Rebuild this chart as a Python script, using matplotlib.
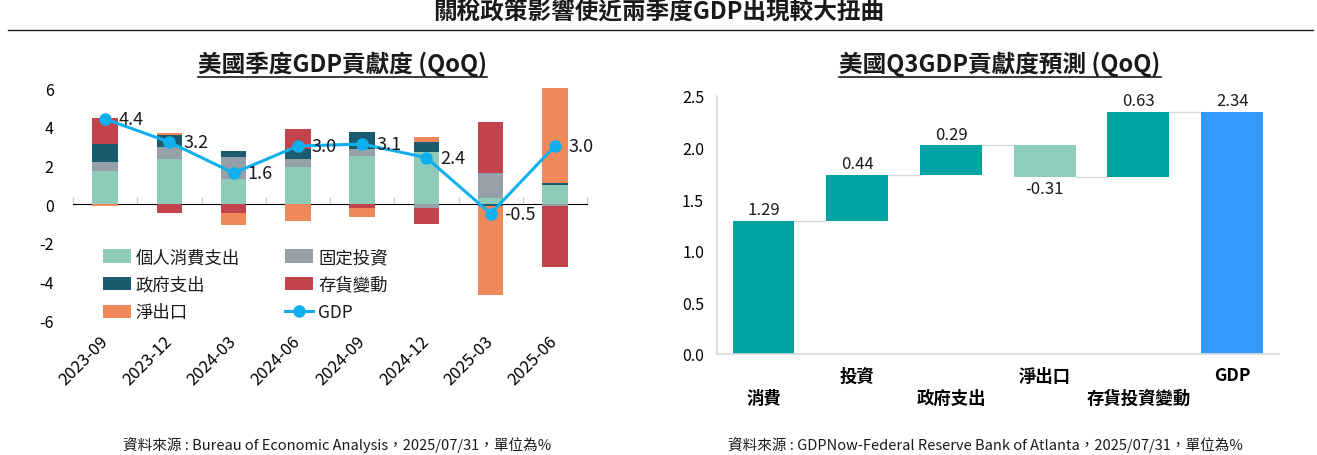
import numpy as np
import matplotlib
matplotlib.use('Agg')
import matplotlib.pyplot as plt
from matplotlib.lines import Line2D

plt.rcParams['font.family'] = ['Noto Sans CJK TC', 'DejaVu Sans']
plt.rcParams['axes.unicode_minus'] = False
plt.rcParams['text.color'] = '#1a1a1a'

# ---- 左圖資料: 美國季度GDP貢獻度 ----
quarters = ['2023-09', '2023-12', '2024-03', '2024-06', '2024-09', '2024-12', '2025-03', '2025-06']
consumption = [1.69, 2.31, 1.28, 1.90, 2.47, 2.68, 0.29, 0.97]
fixed_inv = [0.47, 0.62, 1.14, 0.41, 0.38, -0.22, 1.30, -0.08]
government = [0.93, 0.62, 0.31, 0.52, 0.88, 0.52, -0.10, 0.10]
inventory = [1.35, -0.48, -0.48, 1.04, -0.22, -0.83, 2.66, -3.18]
net_exports = [-0.10, 0.10, -0.60, -0.90, -0.47, 0.26, -4.60, 4.94]
gdp = [4.4, 3.2, 1.6, 3.0, 3.1, 2.4, -0.5, 3.0]
series_names = ['個人消費支出', '固定投資', '政府支出', '存貨變動', '淨出口']
series_colors = ['#8ECCB9', '#95A0A8', '#1B5B70', '#C1434B', '#F0895A']

# ---- 右圖資料: 美國Q3GDP貢獻度預測 ----
wf_labels = ['消費', '投資', '政府支出', '淨出口', '存貨投資變動', 'GDP']
wf_values = [1.29, 0.44, 0.29, -0.31, 0.63]
wf_total = 2.34

W, H = 1317, 456
fig = plt.figure(figsize=(W / 100, H / 100), dpi=100)


def px_axes(x0, x1, ytop, ybot):
    return fig.add_axes([x0 / W, (H - ybot) / H, (x1 - x0) / W, (ybot - ytop) / H])


# 主標題與分隔線
fig.text(0.5, 1 - 12 / H, '關稅政策影響使近兩季度GDP出現較大扭曲', ha='center', va='center',
         fontsize=17, fontweight='bold')
fig.add_artist(Line2D([8 / W, 1313 / W], [1 - 31 / H, 1 - 31 / H], color='#222222', lw=1))

# ================= 左圖 =================
ax1 = px_axes(73, 587, 89, 321)
x = np.arange(len(quarters))
data = [consumption, fixed_inv, government, inventory, net_exports]
pos_base = np.zeros(len(quarters))
neg_base = np.zeros(len(quarters))
handles = []
for vals, name, col in zip(data, series_names, series_colors):
    v = np.array(vals)
    bottom = np.where(v >= 0, pos_base, neg_base)
    b = ax1.bar(x, v, width=0.4, bottom=bottom, color=col, label=name, zorder=2)
    handles.append(b)
    pos_base = pos_base + np.where(v >= 0, v, 0)
    neg_base = neg_base + np.where(v < 0, v, 0)

line, = ax1.plot(x, gdp, color='#10B0EE', lw=2.2, marker='o', markersize=8, label='GDP', zorder=4)
for xi, g in zip(x, gdp):
    ax1.annotate(f'{g:.1f}', (xi, g), xytext=(10, 0), textcoords='offset points',
                 ha='left', va='center', fontsize=13, zorder=5)

ax1.set_xlim(-0.5, len(quarters) - 0.5)
ax1.set_ylim(-6, 6)
ax1.set_yticks(np.arange(-6, 7, 2))
ax1.set_yticklabels([str(v) for v in range(-6, 7, 2)])
ax1.tick_params(axis='y', length=0, pad=14, labelsize=11.5)
ax1.set_xticks(x)
ax1.set_xticklabels(quarters, rotation=45, ha='right', va='center', rotation_mode='anchor', fontsize=12)
ax1.tick_params(axis='x', length=0, pad=13)
for s in ax1.spines.values():
    s.set_visible(False)

# 零軸與分類刻度
zero_ax = ax1.secondary_xaxis(0.5)
zero_ax.set_xticks(np.arange(-0.5, len(quarters), 1))
zero_ax.set_xticklabels([])
zero_ax.tick_params(length=5, color='#D0D0D0', width=1)
zero_ax.spines['bottom'].set_color('#D0D0D0')
zero_ax.spines['bottom'].set_linewidth(1.2)

order = [0, 2, 4, 1, 3]
leg_handles = [handles[i] for i in order] + [line]
leg_labels = [series_names[i] for i in order] + ['GDP']
ax1.legend(leg_handles, leg_labels, ncol=2, loc='upper left', bbox_to_anchor=(0.058, 0.31),
           frameon=False, fontsize=12.5, handlelength=1.6, handleheight=0.8, handletextpad=0.3,
           columnspacing=2.6, labelspacing=0.55, borderpad=0, borderaxespad=0)

# ================= 右圖 =================
ax2 = px_axes(716.7, 1279, 96.7, 355)
n = len(wf_values)
cum = np.concatenate([[0], np.cumsum(wf_values)])
wx = np.arange(len(wf_labels))
bar_w = 0.66
step_colors = ['#00A3A3' if v >= 0 else '#8ECCBC' for v in wf_values]
ax2.bar(wx[:n], wf_values, bottom=cum[:n], width=bar_w, color=step_colors, zorder=2)
ax2.bar(wx[n], wf_total, width=bar_w, color='#3399FF', zorder=2)

tops = list(cum[1:]) + [wf_total]
for i in range(len(wf_labels) - 1):
    ax2.plot([wx[i] + bar_w / 2, wx[i + 1] - bar_w / 2], [tops[i], tops[i]],
             color='#D9D9D9', lw=1, zorder=1)

for i, v in enumerate(wf_values + [wf_total]):
    if v >= 0:
        ax2.annotate(f'{v:.2f}', (wx[i], tops[i]), xytext=(0, 2), textcoords='offset points',
                     ha='center', va='bottom', fontsize=12)
    else:
        ax2.annotate(f'{v:.2f}', (wx[i], tops[i]), xytext=(0, -2), textcoords='offset points',
                     ha='center', va='top', fontsize=12)

ax2.set_xlim(-0.5, len(wf_labels) - 0.5)
ax2.set_ylim(0, 2.5)
ax2.set_yticks(np.arange(0, 2.51, 0.5))
ax2.set_yticklabels([f'{v:.1f}' for v in np.arange(0, 2.51, 0.5)])
ax2.tick_params(axis='y', length=0, pad=9, labelsize=11.5)
ax2.set_xticks(wx)
ax2.set_xticklabels(wf_labels, fontsize=12.5, fontweight='bold')
ax2.tick_params(axis='x', length=0)
for i, t in enumerate(ax2.xaxis.get_major_ticks()):
    t.set_pad(25 if i % 2 == 0 else 9)
for side in ['top', 'right']:
    ax2.spines[side].set_visible(False)
for side in ['left', 'bottom']:
    ax2.spines[side].set_color('#D9D9D9')
    ax2.spines[side].set_linewidth(1.2)

# 子標題 (加底線)
sub1 = fig.text(342 / W, 1 - 64 / H, '美國季度GDP貢獻度 (QoQ)', ha='center', va='center',
                fontsize=17, fontweight='bold')
sub2 = fig.text(1000 / W, 1 - 64 / H, '美國Q3GDP貢獻度預測 (QoQ)', ha='center', va='center',
                fontsize=17, fontweight='bold')

# 資料來源
fig.text(337 / W, 1 - 445 / H, '資料來源 : Bureau of Economic Analysis，2025/07/31，單位為%',
         ha='center', va='center', fontsize=10.5)
fig.text(985 / W, 1 - 445 / H, '資料來源 : GDPNow-Federal Reserve Bank of Atlanta，2025/07/31，單位為%',
         ha='center', va='center', fontsize=10.5)

fig.canvas.draw()
renderer = fig.canvas.get_renderer()
for t in (sub1, sub2):
    bb = t.get_window_extent(renderer)
    yline = 1 - 78 / H
    fig.add_artist(Line2D([bb.x0 / W, bb.x1 / W], [yline, yline], color='#1a1a1a', lw=1.2))

fig.savefig('out.png', dpi=100, facecolor='white')
